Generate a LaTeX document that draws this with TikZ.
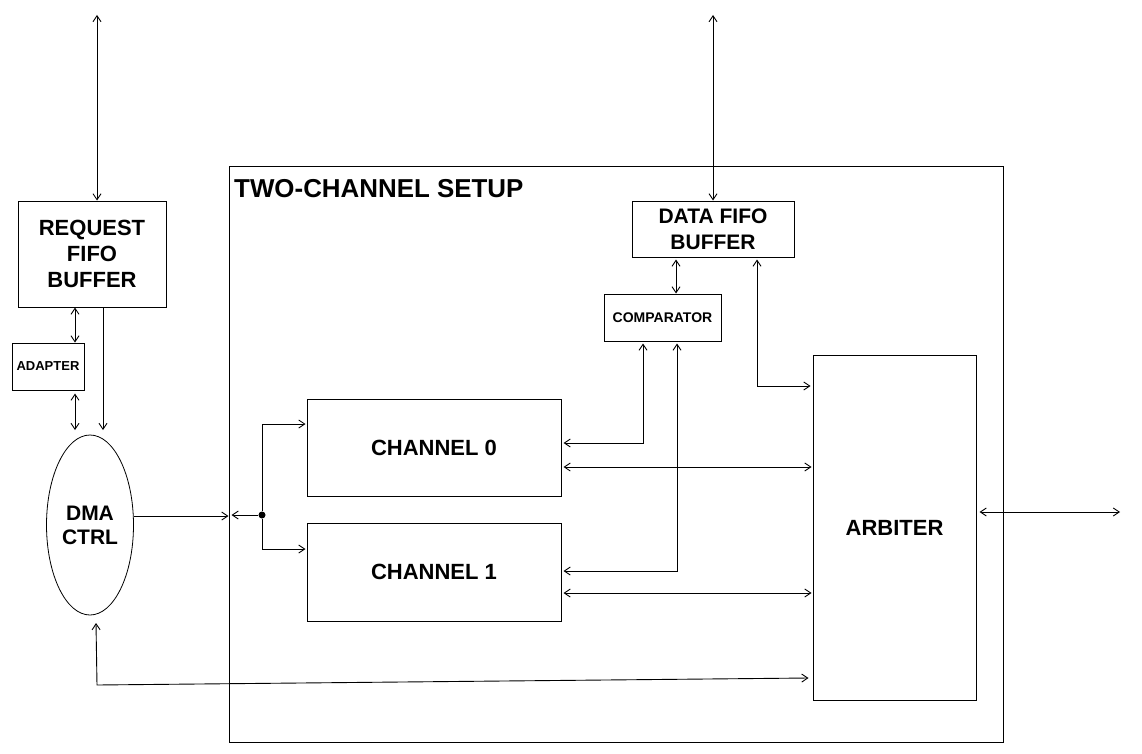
\documentclass[tikz,border=0pt]{standalone}
\usepackage{fontspec}
\setmainfont{Liberation Sans}
\usetikzlibrary{arrows.meta,shapes.geometric}
\begin{document}
\begin{tikzpicture}[x=1pt,y=-1pt,
  box/.style={draw,line width=1pt,inner sep=0pt,align=center,font=\bfseries\fontsize{22}{26}\selectfont},
  smallbox/.style={box,font=\bfseries\fontsize{13}{15}\selectfont},
  conn/.style={line width=0.9pt,{Straight Barb[length=6pt,width=8pt]}-{Straight Barb[length=6pt,width=8pt]}},
  oneway/.style={line width=0.9pt,-{Straight Barb[length=6pt,width=8pt]}}]
\useasboundingbox (0,0) rectangle (1142,754);
% outer frame
\node[draw,line width=1pt,minimum width=774pt,minimum height=575pt,inner sep=0pt] (setup) at (616,454.5) {};
\node[anchor=base west,inner sep=0pt,font=\bfseries\fontsize{25.9}{28}\selectfont] (title) at (234,197) {TWO-CHANNEL SETUP};
% blocks
\node[box,minimum width=148pt,minimum height=106pt] (req) at (92,254) {REQUEST\\FIFO\\BUFFER};
\node[smallbox,minimum width=72pt,minimum height=47pt] (adp) at (48,366.5) {ADAPTER};
\node[box,ellipse,line width=0.8pt,minimum width=87pt,minimum height=180pt,font=\bfseries\fontsize{21}{24}\selectfont] (dma) at (90,525) {DMA\\CTRL};
\node[box,font=\bfseries\fontsize{21}{26}\selectfont,minimum width=162pt,minimum height=56pt] (dfifo) at (713,229) {DATA FIFO\\BUFFER};
\node[smallbox,font=\bfseries\fontsize{14}{16}\selectfont,minimum width=117pt,minimum height=47pt] (comp) at (662.5,317.5) {COMPARATOR};
\node[box,minimum width=254pt,minimum height=97pt] (ch0) at (434,447.5) {CHANNEL 0};
\node[box,minimum width=254pt,minimum height=98pt] (ch1) at (434,572) {CHANNEL 1};
\node[box,minimum width=163pt,minimum height=345pt] (arb) at (894.5,527.5) {ARBITER};
\node[circle,fill,inner sep=0pt,minimum size=7pt] (j) at (262,515) {};
% free ends
\coordinate (topL) at (97,15);
\coordinate (topR) at (713,15);
\coordinate (adpEnd) at (75,430);
\coordinate (reqEnd) at (103,430);
\coordinate (dmaOut) at (134,516);
\coordinate (rightEnd) at (1120,512);
\coordinate (botCorner) at (97,685);
\coordinate (dmaBot) at (96,623);
% connectors
\draw[conn] (topL) -- (97,0 |- req.north);
\draw[conn] (topR) -- (dfifo.north);
\draw[conn] (75,0 |- req.south) -- (75,0 |- adp.north);
\draw[conn] ([yshift=-3pt]75,0 |- adp.south) -- (adpEnd);
\draw[oneway] (103,0 |- req.south) -- (reqEnd);
\draw[oneway] (dmaOut) -- (setup.west |- dmaOut);
\draw[oneway] (j) -- ([xshift=3pt]setup.west |- j);
\draw[oneway] (j) |- ([xshift=-1pt]ch0.west |- 0,424);
\draw[oneway] (j) |- ([xshift=-1pt]ch1.west |- 0,549);
\draw[conn] ([yshift=-2pt]676,0 |- dfifo.south) -- (676,0 |- comp.north);
\draw[conn] ([yshift=-2pt]757,0 |- dfifo.south) |- ([xshift=-2pt]arb.west |- 0,386);
\draw[conn] ([yshift=-2pt]643,0 |- comp.south) |- ([xshift=2pt]ch0.east |- 0,443);
\draw[conn] ([yshift=-2pt]677,0 |- comp.south) |- ([xshift=2pt]ch1.east |- 0,571);
\draw[conn] ([xshift=2pt]ch0.east |- 0,467) -- ([xshift=-1pt]arb.west |- 0,467);
\draw[conn] ([xshift=2pt]ch1.east |- 0,593) -- ([xshift=-1pt]arb.west |- 0,593);
\draw[conn] ([xshift=3pt]arb.east |- 0,512) -- (rightEnd);
\draw[conn] ([xshift=-4pt]arb.west |- 0,678) -- (botCorner) -- (dmaBot);
\end{tikzpicture}
\end{document}
